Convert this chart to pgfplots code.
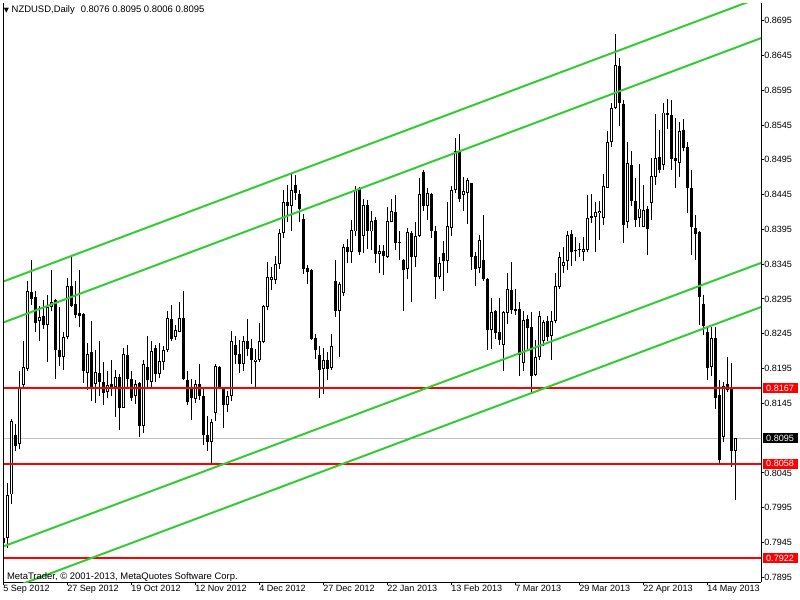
\documentclass[border=0pt]{standalone}
\usepackage{fontspec}
\setmainfont{Liberation Sans}
\newfontfamily\dejavu{DejaVu Sans}
\usepackage{pgfplots}
\usepackage{pgfplotstable}
\pgfplotsset{compat=1.18}
\definecolor{mtgreen}{HTML}{32CD32}
\definecolor{mtred}{HTML}{FF0000}
\definecolor{mtgray}{HTML}{C0C0C0}
\newcommand{\lbl}{\fontsize{6.8}{8}\selectfont}
\newcommand{\txt}{\fontsize{7.1}{8.4}\selectfont}

% daily bars, x = bar number from 5 Sep 2012
\pgfplotstableread{
i o h l c
0 0.7944 0.7956 0.7910 0.7952
1 0.7951 0.8030 0.7937 0.8013
2 0.8014 0.8122 0.8000 0.8119
4 0.8086 0.8191 0.8079 0.8169
5 0.8172 0.8235 0.8169 0.8197
6 0.8195 0.8321 0.8191 0.8306
9 0.8263 0.8285 0.8234 0.8269
11 0.8257 0.8301 0.8205 0.8284
12 0.8284 0.8337 0.8277 0.8290
15 0.8212 0.8247 0.8193 0.8241
16 0.8240 0.8325 0.8237 0.8313
21 0.8188 0.8232 0.8164 0.8216
23 0.8173 0.8222 0.8146 0.8190
26 0.8161 0.8191 0.8152 0.8172
28 0.8169 0.8193 0.8126 0.8183
30 0.8139 0.8224 0.8138 0.8216
33 0.8155 0.8179 0.8144 0.8173
35 0.8112 0.8207 0.8102 0.8201
37 0.8176 0.8234 0.8167 0.8220
39 0.8187 0.8231 0.8181 0.8206
40 0.8204 0.8228 0.8193 0.8222
41 0.8221 0.8277 0.8219 0.8267
43 0.8240 0.8258 0.8236 0.8251
44 0.8248 0.8290 0.8247 0.8267
48 0.8151 0.8179 0.8145 0.8173
52 0.8089 0.8122 0.8058 0.8118
53 0.8131 0.8201 0.8119 0.8199
56 0.8142 0.8163 0.8132 0.8155
57 0.8155 0.8249 0.8149 0.8235
60 0.8201 0.8242 0.8191 0.8235
63 0.8204 0.8223 0.8167 0.8208
64 0.8208 0.8260 0.8204 0.8235
65 0.8233 0.8287 0.8231 0.8285
66 0.8284 0.8348 0.8279 0.8326
67 0.8322 0.8341 0.8308 0.8326
68 0.8322 0.8357 0.8317 0.8345
69 0.8345 0.8395 0.8338 0.8390
70 0.8390 0.8452 0.8383 0.8434
72 0.8428 0.8475 0.8392 0.8451
80 0.8195 0.8225 0.8159 0.8207
82 0.8196 0.8245 0.8193 0.8228
84 0.8278 0.8320 0.8211 0.8317
85 0.8303 0.8374 0.8299 0.8369
87 0.8362 0.8409 0.8346 0.8394
88 0.8392 0.8457 0.8385 0.8452
90 0.8386 0.8438 0.8361 0.8430
92 0.8392 0.8422 0.8366 0.8407
94 0.8359 0.8373 0.8332 0.8364
96 0.8356 0.8427 0.8354 0.8407
97 0.8406 0.8438 0.8405 0.8422
101 0.8338 0.8397 0.8323 0.8391
103 0.8356 0.8405 0.8341 0.8386
104 0.8386 0.8469 0.8384 0.8446
106 0.8429 0.8454 0.8409 0.8447
109 0.8327 0.8356 0.8323 0.8346
111 0.8350 0.8435 0.8332 0.8400
112 0.8397 0.8457 0.8385 0.8452
113 0.8452 0.8526 0.8447 0.8507
115 0.8445 0.8471 0.8421 0.8450
116 0.8448 0.8469 0.8403 0.8466
119 0.8339 0.8387 0.8332 0.8380
122 0.8250 0.8296 0.8223 0.8276
125 0.8229 0.8278 0.8192 0.8276
126 0.8275 0.8332 0.8259 0.8310
130 0.8203 0.8277 0.8191 0.8265
133 0.8186 0.8236 0.8185 0.8212
134 0.8212 0.8277 0.8207 0.8270
135 0.8234 0.8265 0.8227 0.8262
137 0.8242 0.8278 0.8207 0.8264
138 0.8263 0.8333 0.8260 0.8314
139 0.8312 0.8363 0.8310 0.8355
140 0.8342 0.8370 0.8332 0.8348
141 0.8349 0.8393 0.8336 0.8387
144 0.8365 0.8376 0.8356 0.8367
145 0.8362 0.8384 0.8349 0.8367
146 0.8366 0.8445 0.8362 0.8412
147 0.8412 0.8446 0.8404 0.8414
148 0.8413 0.8434 0.8362 0.8420
149 0.8419 0.8436 0.8380 0.8422
150 0.8412 0.8474 0.8401 0.8458
151 0.8455 0.8536 0.8454 0.8521
152 0.8521 0.8576 0.8513 0.8569
153 0.8570 0.8676 0.8568 0.8631
156 0.8405 0.8521 0.8397 0.8491
159 0.8412 0.8489 0.8399 0.8425
160 0.8399 0.8459 0.8398 0.8423
162 0.8433 0.8497 0.8409 0.8472
163 0.8471 0.8561 0.8459 0.8498
165 0.8488 0.8576 0.8481 0.8563
169 0.8491 0.8549 0.8471 0.8537
177 0.8197 0.8255 0.8184 0.8239
180 0.8097 0.8176 0.8090 0.8170
183 0.8076 0.8095 0.8006 0.8095
}\bull

\pgfplotstableread{
i o h l c
3 0.8100 0.8116 0.8076 0.8084
7 0.8305 0.8351 0.8287 0.8295
8 0.8298 0.8306 0.8248 0.8261
10 0.8271 0.8294 0.8252 0.8257
13 0.8294 0.8295 0.8180 0.8221
14 0.8222 0.8283 0.8198 0.8211
17 0.8314 0.8355 0.8284 0.8285
18 0.8288 0.8321 0.8267 0.8272
19 0.8275 0.8337 0.8254 0.8271
20 0.8274 0.8275 0.8174 0.8191
22 0.8219 0.8264 0.8149 0.8167
24 0.8188 0.8235 0.8156 0.8175
25 0.8175 0.8204 0.8142 0.8160
27 0.8173 0.8208 0.8155 0.8168
29 0.8183 0.8187 0.8106 0.8139
31 0.8215 0.8229 0.8166 0.8180
32 0.8180 0.8191 0.8148 0.8152
34 0.8174 0.8175 0.8097 0.8113
36 0.8197 0.8242 0.8167 0.8178
38 0.8224 0.8229 0.8176 0.8187
42 0.8266 0.8286 0.8234 0.8238
45 0.8267 0.8307 0.8179 0.8180
46 0.8179 0.8191 0.8142 0.8147
47 0.8167 0.8180 0.8121 0.8152
49 0.8173 0.8202 0.8150 0.8156
50 0.8155 0.8169 0.8085 0.8099
51 0.8100 0.8127 0.8076 0.8089
54 0.8197 0.8199 0.8165 0.8167
55 0.8167 0.8168 0.8109 0.8142
58 0.8229 0.8242 0.8202 0.8215
59 0.8216 0.8236 0.8189 0.8202
61 0.8235 0.8266 0.8213 0.8223
62 0.8225 0.8237 0.8173 0.8207
71 0.8434 0.8459 0.8406 0.8428
73 0.8459 0.8473 0.8437 0.8447
74 0.8446 0.8451 0.8406 0.8424
75 0.8410 0.8417 0.8331 0.8338
76 0.8340 0.8344 0.8316 0.8334
77 0.8337 0.8338 0.8236 0.8237
78 0.8239 0.8245 0.8209 0.8221
79 0.8215 0.8228 0.8152 0.8193
81 0.8207 0.8219 0.8178 0.8194
83 0.8321 0.8351 0.8269 0.8277
86 0.8370 0.8381 0.8347 0.8363
89 0.8453 0.8456 0.8358 0.8362
91 0.8430 0.8437 0.8367 0.8393
93 0.8409 0.8413 0.8347 0.8359
95 0.8364 0.8373 0.8330 0.8357
98 0.8420 0.8445 0.8366 0.8376
99 0.8377 0.8392 0.8351 0.8375
100 0.8351 0.8352 0.8277 0.8336
102 0.8390 0.8392 0.8291 0.8356
105 0.8478 0.8481 0.8422 0.8429
107 0.8446 0.8447 0.8382 0.8393
108 0.8392 0.8400 0.8295 0.8327
110 0.8361 0.8378 0.8307 0.8349
114 0.8508 0.8532 0.8435 0.8439
117 0.8461 0.8462 0.8337 0.8356
118 0.8357 0.8363 0.8313 0.8338
120 0.8351 0.8416 0.8321 0.8323
121 0.8324 0.8325 0.8222 0.8251
123 0.8277 0.8279 0.8237 0.8246
124 0.8248 0.8296 0.8229 0.8236
127 0.8308 0.8348 0.8274 0.8279
128 0.8280 0.8310 0.8272 0.8278
129 0.8280 0.8291 0.8184 0.8215
131 0.8266 0.8272 0.8222 0.8253
132 0.8254 0.8276 0.8162 0.8185
136 0.8263 0.8270 0.8234 0.8241
142 0.8389 0.8394 0.8343 0.8362
143 0.8366 0.8384 0.8349 0.8364
154 0.8630 0.8641 0.8544 0.8577
155 0.8575 0.8581 0.8375 0.8402
157 0.8487 0.8508 0.8428 0.8436
158 0.8436 0.8469 0.8399 0.8409
161 0.8424 0.8428 0.8358 0.8396
164 0.8499 0.8538 0.8476 0.8481
166 0.8562 0.8583 0.8540 0.8560
167 0.8560 0.8581 0.8481 0.8496
168 0.8497 0.8555 0.8454 0.8494
170 0.8538 0.8554 0.8507 0.8512
171 0.8513 0.8521 0.8418 0.8454
172 0.8454 0.8481 0.8358 0.8398
173 0.8397 0.8415 0.8351 0.8389
174 0.8391 0.8392 0.8258 0.8298
175 0.8288 0.8301 0.8243 0.8256
176 0.8248 0.8255 0.8179 0.8196
178 0.8239 0.8255 0.8137 0.8152
179 0.8157 0.8178 0.8058 0.8064
181 0.8173 0.8211 0.8162 0.8164
182 0.8166 0.8203 0.8054 0.8076
}\bear

\pgfplotsset{
  candle/.style={draw=none, mark=none, forget plot,
    error bars/y dir=plus, error bars/y explicit,
    error bars/error mark=none, error bars/error bar style={#1}},
}
\tikzset{
  pricebox/.style={anchor=west, xshift=1.3pt, font=\lbl, text=white,
    inner xsep=2.4pt, inner ysep=0pt, minimum height=7.5pt,
    text width=21.6pt, align=left},
}

\begin{document}
\begin{tikzpicture}
\path[use as bounding box] (0,0) rectangle (600pt,450pt);
\begin{axis}[
    at={(2.25pt,13.5pt)}, anchor=south west,
    scale only axis, width=568.5pt, height=434.25pt,
    xmin=0, xmax=189.5, ymin=0.78882, ymax=0.87204,
    axis x line*=bottom, axis y line*=right,
    axis line style={-, black, line width=0.75pt},
    tick align=outside, major tick length=2.25pt,
    tick style={black, line width=0.75pt},
    xtick={0,16,...,176},
    xticklabels={5 Sep 2012,27 Sep 2012,19 Oct 2012,12 Nov 2012,4 Dec 2012,27 Dec 2012,22 Jan 2013,13 Feb 2013,7 Mar 2013,29 Mar 2013,22 Apr 2013,14 May 2013},
    xticklabel style={anchor=north west, inner sep=0pt, font=\lbl},
    ytick={0.7895,0.7945,0.7995,0.8045,0.8145,0.8195,0.8245,0.8295,0.8345,0.8395,0.8445,0.8495,0.8545,0.8595,0.8645,0.8695},
    yticklabels={0.7895,0.7945,0.7995,0.8045,0.8145,0.8195,0.8245,0.8295,0.8345,0.8395,0.8445,0.8495,0.8545,0.8595,0.8645,0.8695},
    yticklabel style={anchor=west, inner sep=0pt, font=\lbl},
    clip mode=individual,
]
% bid line
\addplot[mtgray, line width=0.75pt] coordinates {(0,0.8095) (190,0.8095)};
% wicks
\addplot[candle={black, line width=0.75pt}] table[x=i, y=l, y error plus expr=\thisrow{h}-\thisrow{l}] {\bull};
\addplot[candle={black, line width=0.75pt}] table[x=i, y=l, y error plus expr=\thisrow{h}-\thisrow{l}] {\bear};
% bodies
\addplot[candle={black, line width=2.25pt}] table[x=i, y=c, y error plus expr=\thisrow{o}-\thisrow{c}] {\bear};
\addplot[candle={black, line width=2.25pt}] table[x=i, y=o, y error plus expr=\thisrow{c}-\thisrow{o}] {\bull};
\addplot[candle={white, line width=0.75pt}, restrict expr to domain={\thisrow{c}-\thisrow{o}}{0.0003:1}]
    table[x=i, y expr=\thisrow{o}+0.00014, y error plus expr=\thisrow{c}-\thisrow{o}-0.00028] {\bull};
% horizontal levels
\addplot[mtred, line width=1.5pt] coordinates {(0,0.8167) (190,0.8167)};
\addplot[mtred, line width=1.5pt] coordinates {(0,0.8058) (190,0.8058)};
\addplot[mtred, line width=1.5pt] coordinates {(0,0.7922) (190,0.7922)};
% channels
\addplot[mtgreen, line width=1.5pt] coordinates {(0,0.83199) (190,0.87299)};
\addplot[mtgreen, line width=1.5pt] coordinates {(0,0.82610) (190,0.86710)};
\addplot[mtgreen, line width=1.5pt] coordinates {(0,0.79391) (190,0.83479)};
\addplot[mtgreen, line width=1.5pt] coordinates {(0,0.78750) (190,0.82845)};

\draw[black, line width=0.75pt] (rel axis cs:0,0) -- (rel axis cs:0,1);
\node[anchor=base west, font=\txt, inner sep=0pt, xshift=0.5pt, yshift=-7.3pt] at (rel axis cs:0,1)
    {{\dejavu\fontsize{5}{6}\selectfont ▼}\ NZDUSD,Daily\hspace{4.5pt}0.8076 0.8095 0.8006 0.8095};
\node[anchor=base west, font=\txt, inner sep=0pt, xshift=2.8pt, yshift=2.25pt] at (rel axis cs:0,0)
    {MetaTrader, © 2001-2013, MetaQuotes Software Corp.};
\node[pricebox, fill=mtred] at (axis cs:189.5,0.8167) {0.8167};
\node[pricebox, fill=black] at (axis cs:189.5,0.8095) {0.8095};
\node[pricebox, fill=mtred] at (axis cs:189.5,0.8058) {0.8058};
\node[pricebox, fill=mtred] at (axis cs:189.5,0.7922) {0.7922};
\end{axis}
\end{tikzpicture}
\end{document}
